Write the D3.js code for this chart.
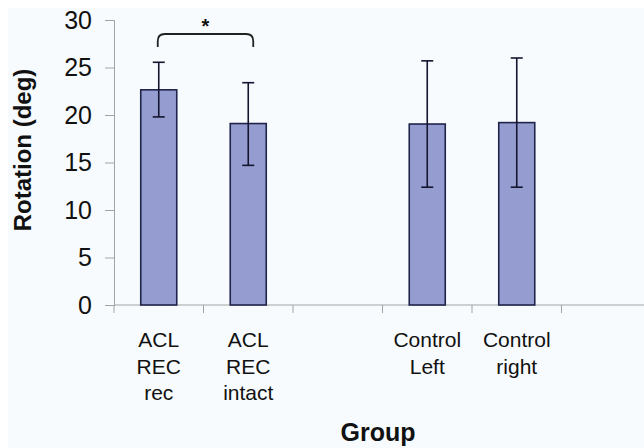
<!DOCTYPE html>
<html><head><meta charset="utf-8">
<script src="https://cdn.jsdelivr.net/npm/d3@7"></script>
<style>body{margin:0;background:#fff}svg{display:block}</style>
</head><body>
<script>
const categories = ["ACL\nREC\nrec", "ACL\nREC\nintact", "", "Control\nLeft", "Control\nright", " "];
const means = [22.65, 19.1, null, 19.05, 19.2, null];
const upper = [25.55, 23.4, null, 25.7, 26.0, null];
const lower = [19.8, 14.7, null, 12.4, 12.4, null];
const yTicks = [0, 5, 10, 15, 20, 25, 30];

const W = 644, H = 448;
const svg = d3.select("body").append("svg").attr("width", W).attr("height", H);
svg.append("rect").attr("x", 8).attr("y", 8).attr("width", W - 8).attr("height", H - 8).attr("fill", "#f7fbfd");

const x = d3.scaleBand().domain(d3.range(categories.length)).range([114, 651]).paddingInner(0).paddingOuter(0);
const y = d3.scaleLinear().domain([0, 30]).range([305, 20]);
const axisColor = "#a3a3a3";
const font = "Liberation Sans, Arial, sans-serif";

// y axis
const ya = svg.append("g").attr("transform", "translate(114,0)")
  .call(d3.axisLeft(y).tickValues(yTicks).tickSize(9).tickPadding(13).tickFormat(d3.format("d")));
ya.select(".domain").attr("stroke", axisColor);
ya.selectAll(".tick line").attr("stroke", axisColor);
ya.selectAll(".tick text").attr("font-family", font).attr("font-size", 25).attr("fill", "#111");

// x axis
const xa = svg.append("g").attr("transform", "translate(0,305)");
xa.append("line").attr("x1", 114).attr("x2", 651).attr("stroke", axisColor);
xa.selectAll("line.tk").data(d3.range(categories.length + 1)).enter().append("line")
  .attr("class", "tk")
  .attr("x1", i => i < categories.length ? x(i) : x(categories.length - 1) + x.bandwidth())
  .attr("x2", i => i < categories.length ? x(i) : x(categories.length - 1) + x.bandwidth())
  .attr("y1", 0).attr("y2", 8).attr("stroke", axisColor);

categories.forEach((c, i) => {
  const lines = c.split("\n");
  const t = svg.append("text").attr("text-anchor", "middle")
    .attr("font-family", font).attr("font-size", 21).attr("fill", "#111");
  lines.forEach((l, k) => t.append("tspan").attr("x", x(i) + x.bandwidth() / 2).attr("y", 347 + k * 26.7).text(l));
});

// bars
const bw = 36;
const data = means.map((m, i) => ({i, m, u: upper[i], l: lower[i]})).filter(d => d.m != null);
svg.selectAll("rect.bar").data(data).enter().append("rect").attr("class", "bar")
  .attr("x", d => x(d.i) + x.bandwidth() / 2 - bw / 2)
  .attr("width", bw)
  .attr("y", d => y(d.m))
  .attr("height", d => y(0) - y(d.m))
  .attr("fill", "#959dd0").attr("stroke", "#20234a").attr("stroke-width", 1.6);

// error bars
const eb = svg.selectAll("g.eb").data(data).enter().append("g").attr("stroke", "#151530").attr("stroke-width", 1.6);
eb.append("line").attr("x1", d => x(d.i) + x.bandwidth() / 2).attr("x2", d => x(d.i) + x.bandwidth() / 2)
  .attr("y1", d => y(d.u)).attr("y2", d => y(d.l));
eb.append("line").attr("x1", d => x(d.i) + x.bandwidth() / 2 - 6).attr("x2", d => x(d.i) + x.bandwidth() / 2 + 6)
  .attr("y1", d => y(d.u)).attr("y2", d => y(d.u));
eb.append("line").attr("x1", d => x(d.i) + x.bandwidth() / 2 - 6).attr("x2", d => x(d.i) + x.bandwidth() / 2 + 6)
  .attr("y1", d => y(d.l)).attr("y2", d => y(d.l));

// significance bracket
const bx1 = x(0) + x.bandwidth() / 2 - 1, bx2 = x(1) + x.bandwidth() / 2 + 5;
const by = 34, bEnd = 47, r = 7;
svg.append("path")
  .attr("d", `M${bx1},${bEnd} L${bx1},${by + r} Q${bx1},${by} ${bx1 + r},${by} L${bx2 - r},${by} Q${bx2},${by} ${bx2},${by + r} L${bx2},${bEnd}`)
  .attr("fill", "none").attr("stroke", "#222").attr("stroke-width", 1.8);
svg.append("text").attr("x", (bx1 + bx2) / 2).attr("y", 33).attr("text-anchor", "middle")
  .attr("font-family", font).attr("font-size", 20).attr("font-weight", "bold").attr("fill", "#111").text("*");

// axis titles
svg.append("text").attr("transform", "translate(31,150) rotate(-90)").attr("text-anchor", "middle")
  .attr("font-family", font).attr("font-size", 24).attr("font-weight", "bold").attr("fill", "#111")
  .text("Rotation (deg)");
svg.append("text").attr("x", 378).attr("y", 441).attr("text-anchor", "middle")
  .attr("font-family", font).attr("font-size", 25).attr("font-weight", "bold").attr("fill", "#111")
  .text("Group");
</script>
</body></html>
